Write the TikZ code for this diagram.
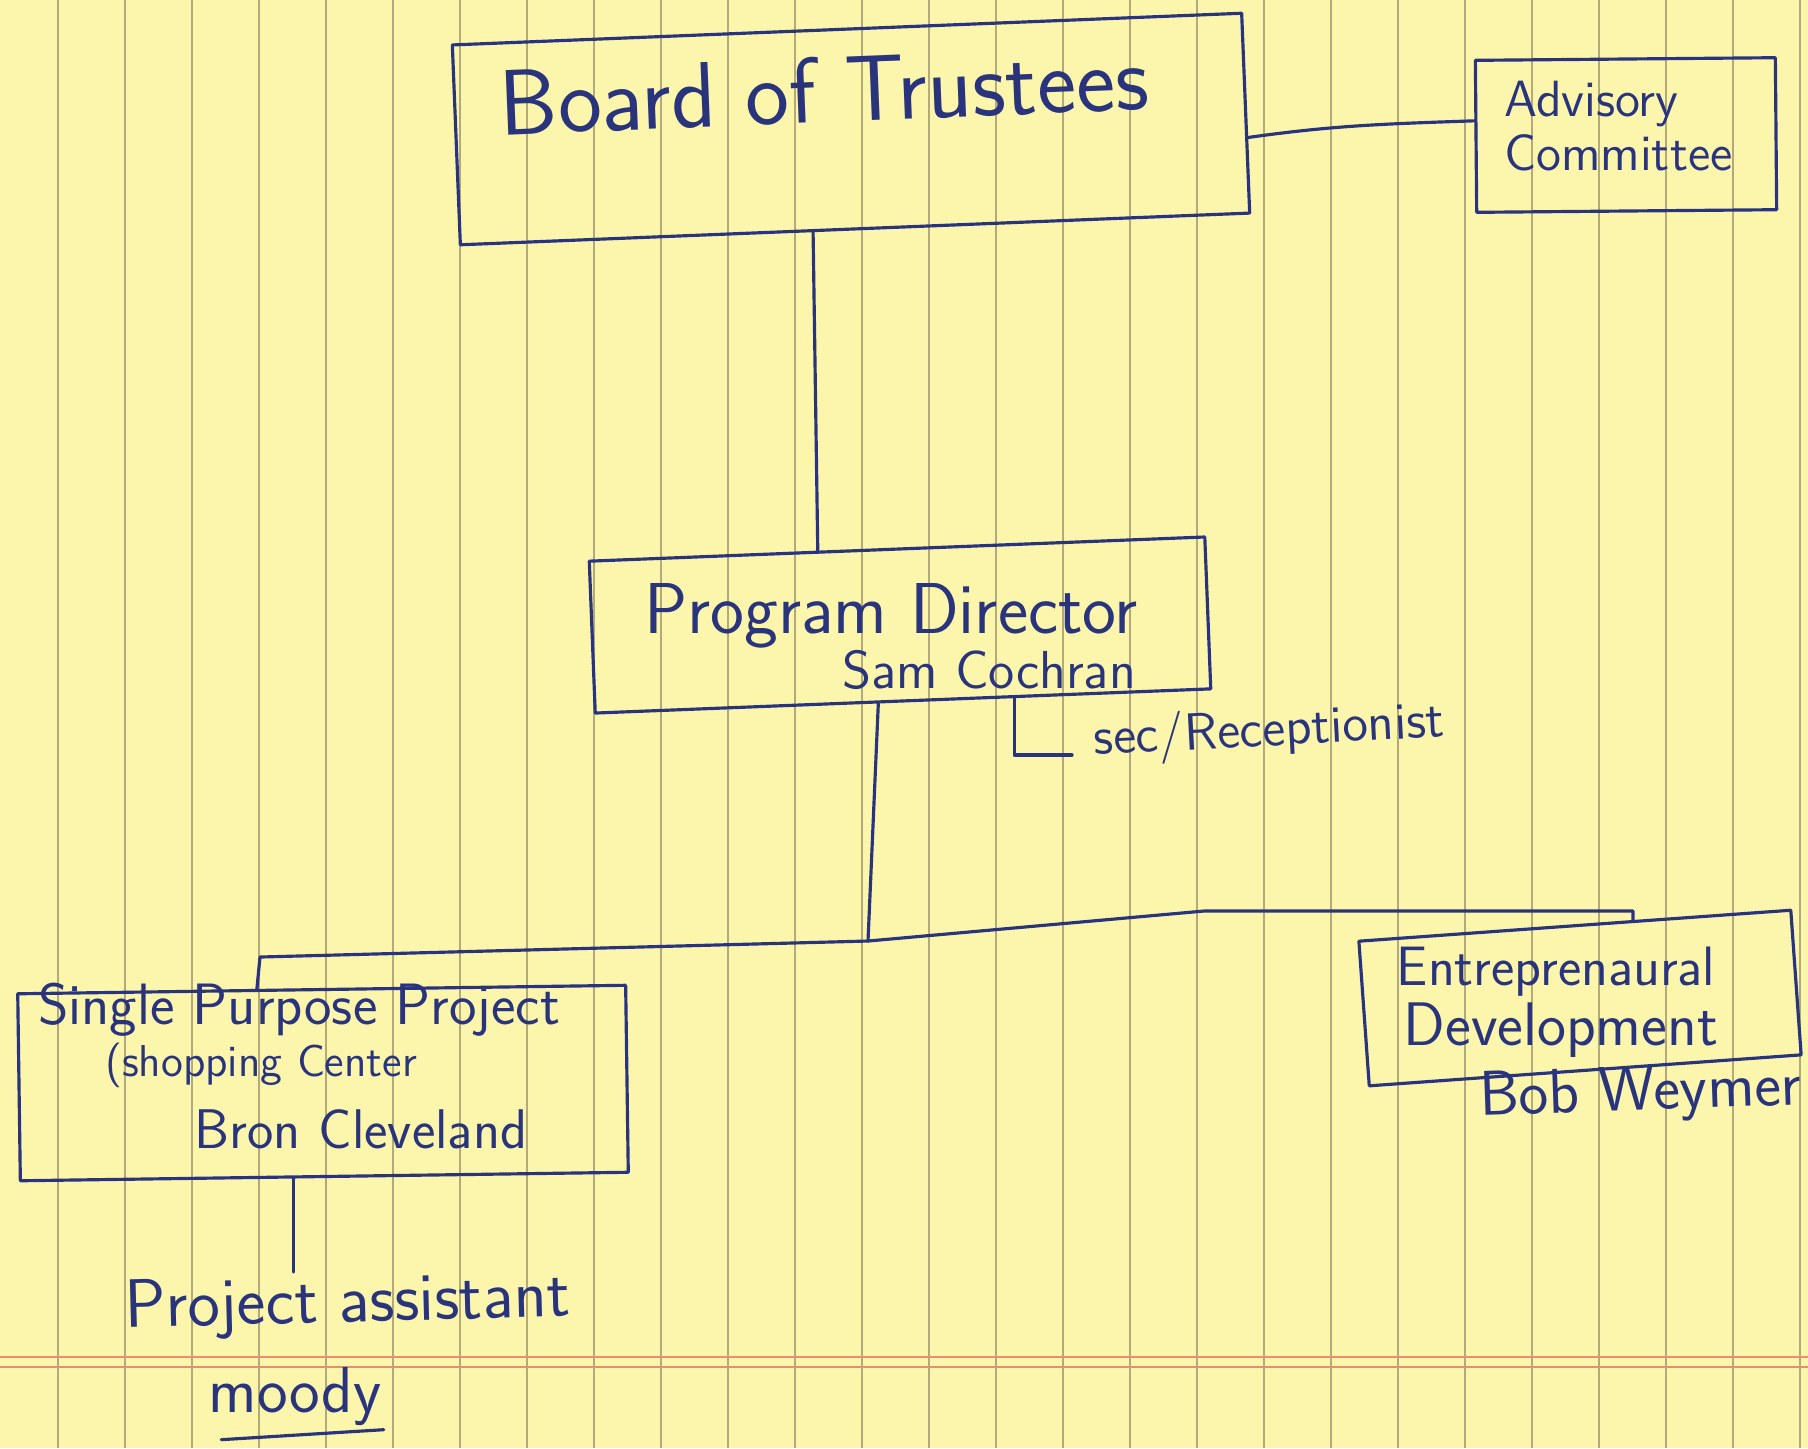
\documentclass[tikz,border=0pt]{standalone}
\usepackage{fontspec}
\usepackage{tikz}
\usetikzlibrary{calc,positioning}
\definecolor{ink}{RGB}{42,52,125}
\definecolor{padyellow}{RGB}{251,246,172}
\definecolor{padline}{RGB}{178,170,122}
\definecolor{padred}{RGB}{236,140,112}
\newcommand{\handfont}[1]{\sffamily\fontsize{#1}{#1}\selectfont}
\tikzset{
  pen/.style={ % ballpoint stroke
    draw=ink, line width=0.9pt, line cap=round, line join=round
  },
  box/.style={ % hand-drawn frame
    pen, rectangle, inner sep=0pt
  },
  hand/.style={ % handwritten label
    text=ink, inner sep=0.5pt
  },
  ruling/.style={draw=padline, line width=0.35pt},
  redline/.style={draw=padred, line width=0.6pt}
}

\begin{document}
\begin{tikzpicture}

  % legal pad
  \fill[padyellow] (0,0) rectangle (18.08,-14.48);
  \useasboundingbox (0,0) rectangle (18.08,-14.48);
  \foreach \k in {0,...,26}
    \draw[ruling] ({0.58+0.67*\k},0) -- ({0.58+0.67*\k},-14.48);
  \draw[redline] (0,-13.57) -- (18.08,-13.57);
  \draw[redline] (0,-13.67) -- (18.08,-13.67);

  % frames
  \node[box, minimum width=7.9cm, minimum height=2cm, rotate=2.3] (board) at (8.51,-1.29) {};
  \node[box, minimum width=3.0cm, minimum height=1.52cm, rotate=0.5] (advisory) at (16.26,-1.35) {};
  \node[box, minimum width=6.16cm, minimum height=1.52cm, rotate=2.25] (pd) at (9.00,-6.25) {};
  \node[box, minimum width=6.08cm, minimum height=1.87cm, rotate=0.8] (spp) at (3.23,-10.83) {};
  \node[box, minimum width=4.33cm, minimum height=1.45cm, rotate=4.1] (ed) at (15.80,-9.98) {};

  % writing
  \node[hand, font=\handfont{26.5}, rotate=2.3] (board_label) at (8.24,-0.90) {Board of Trustees};
  \node[hand, font=\sffamily\fontsize{14.5}{15.5}\selectfont, align=left, anchor=west] (advisory_label) at (15.02,-1.26) {Advisory\\Committee};
  \node[hand, font=\handfont{20.5}, anchor=base] (pd_label) at (8.91,-6.33) {Program Director};
  \node[hand, font=\handfont{15.2}, anchor=base] (pd_name) at (9.89,-6.88) {Sam Cochran};
  \node[hand, font=\handfont{14.9}, rotate=3, anchor=base west] (sec_label) at (10.92,-7.55) {sec/Receptionist};
  \node[hand, font=\handfont{16.6}, anchor=base] (spp_label) at (2.99,-10.24) {Single Purpose Project};
  \node[hand, font=\handfont{12.7}, anchor=base] (spp_sub) at (2.61,-10.76) {(shopping Center};
  \node[hand, font=\handfont{15.9}, anchor=base] (spp_name) at (3.61,-11.48) {Bron Cleveland};
  \node[hand, font=\handfont{15.8}, anchor=base] (ed_label) at (15.56,-9.85) {Entreprenaural};
  \node[hand, font=\handfont{17.5}, anchor=base] (ed_sub) at (15.61,-10.45) {Development};
  \node[hand, font=\handfont{18}, rotate=2, anchor=base] (ed_name) at (16.41,-11.10) {Bob Weymer};
  \node[hand, font=\handfont{19.5}, rotate=1.5, anchor=base] (pa_label) at (3.48,-13.22) {Project assistant};
  \node[hand, font=\handfont{18.5}, anchor=base] (pa_name) at (2.95,-14.12) {moody};

  % lines of report
  \coordinate (split) at (8.68,-9.41);
  \draw[pen] ($(board.north east)!0.62!(board.south east)$) to[out=8,in=182] ($(advisory.north west)!0.4!(advisory.south west)$);
  \draw[pen] ($(board.south west)!0.447!(board.south east)$) -- ($(pd.north west)!0.372!(pd.north east)$);
  \draw[pen] ($(pd.south west)!0.46!(pd.south east)$) -- (split);
  \draw[pen] ($(pd.south west)!0.68!(pd.south east)$) |- ([xshift=-0.2cm]sec_label.base west);
  \draw[pen] (split) -- ++(-6.08,-0.16) -- ($(spp.north west)!0.394!(spp.north east)$);
  \draw[pen] (split) -- ++(3.36,0.30) -| ($(ed.north west)!0.634!(ed.north east)$);
  \draw[pen] ($(spp.south west)!0.45!(spp.south east)$) coordinate (spp_foot) -- (spp_foot |- pa_label.north);
  \draw[pen] ([xshift=0.15cm,yshift=-0.12cm]pa_name.south west) -- ([yshift=-0.02cm]pa_name.south east);

\end{tikzpicture}
\end{document}
